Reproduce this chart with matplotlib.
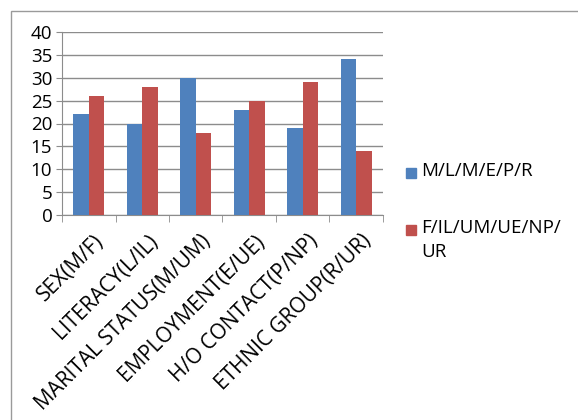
import matplotlib
matplotlib.use('Agg')
import matplotlib.pyplot as plt
from matplotlib.patches import Rectangle
from matplotlib.transforms import ScaledTranslation
import numpy as np

# data
categories = ['SEX(M/F)', 'LITERACY(L/IL)', 'MARITAL STATUS(M/UM)',
              'EMPLOYMENT(E/UE)', 'H/O CONTACT(P/NP)', 'ETHNIC GROUP(R/UR)']
series_names = ['M/L/M/E/P/R', 'F/IL/UM/UE/NP/\nUR']
first_vals = [22, 20, 30, 23, 19, 34]
second_vals = [26, 28, 18, 25, 29, 14]
colors = ['#4F81BD', '#C0504D']

plt.rcParams['font.family'] = ['Open Sans', 'DejaVu Sans']

fig = plt.figure(figsize=(5.78, 4.2), dpi=100)

# outer chart border (only the left and top edges are visible)
fig.patches.append(Rectangle((11 / 578, -0.1), 2.0, (420 - 11) / 420 + 0.1,
                             transform=fig.transFigure, fill=False,
                             edgecolor='#9a9a9a', linewidth=1.0))

ax = fig.add_axes([62 / 578, 205 / 420, 321 / 578, 183 / 420])

x = np.arange(len(categories))
w = 0.29
ax.bar(x - w / 2, first_vals, w, color=colors[0], zorder=3)
ax.bar(x + w / 2, second_vals, w, color=colors[1], zorder=3)

ax.set_xlim(-0.5, len(categories) - 0.5)
ax.set_ylim(0, 40)
ax.set_yticks(range(0, 41, 5))
ax.yaxis.grid(True, color='#8c8c8c', linewidth=1.0, zorder=0)

for side in ['top', 'right']:
    ax.spines[side].set_visible(False)
ax.spines['left'].set_color('#8c8c8c')
ax.spines['bottom'].set_color('#8c8c8c')

ax.tick_params(axis='y', length=4, color='#8c8c8c', labelsize=13.5, pad=3)
ax.set_xticks(x)
ax.set_xticklabels(categories, rotation=45, ha='right',
                   rotation_mode='anchor', fontsize=15)
ax.tick_params(axis='x', length=0, pad=4)
shift = ScaledTranslation(5 / 100, -10 / 100, fig.dpi_scale_trans)
for lab in ax.get_xticklabels():
    lab.set_transform(lab.get_transform() + shift)
# tick marks at category boundaries
ax.set_xticks(np.arange(-0.5, len(categories)), minor=True)
ax.tick_params(axis='x', which='minor', length=5, color='#8c8c8c')

# legend drawn by hand
leg_y = [173, 230]
for name, c, yy in zip(series_names, colors, leg_y):
    fig.patches.append(Rectangle((406 / 578, (420 - yy - 5) / 420), 10 / 578, 10 / 420,
                                 transform=fig.transFigure, color=c))
    fig.text(421 / 578, (420 - yy + 11) / 420, name, fontsize=13.5, va='top',
             ha='left', linespacing=1.45)

fig.savefig('out.png', dpi=100)
